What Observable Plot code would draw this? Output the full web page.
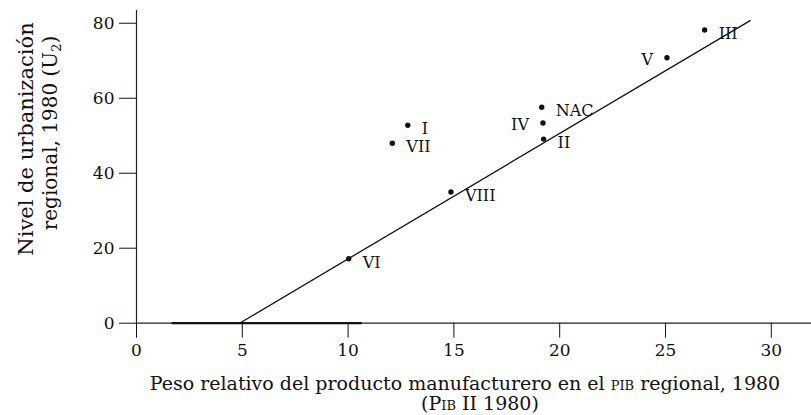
<!DOCTYPE html>
<html>
<head>
<meta charset="utf-8">
<script src="https://cdn.jsdelivr.net/npm/d3@7"></script>
<script src="https://cdn.jsdelivr.net/npm/@observablehq/plot@0.6"></script>
<style>
  html, body { margin: 0; padding: 0; background: #fff; }
  #chart svg { display: block; }
</style>
</head>
<body>
<div id="chart"></div>
<script>
// Regions and values
const regions = ["I", "II", "III", "IV", "V", "VI", "VII", "VIII", "NAC"];
const pib     = [12.82, 19.24, 26.85, 19.21, 25.07, 10.03, 12.09, 14.86, 19.15];
const urban   = [52.8, 49.1, 78.2, 53.4, 70.8, 17.2, 48.0, 35.0, 57.6];

// Fitted line (start on the x-axis, end top right)
const fitX = [4.87, 29.0];
const fitY = [0, 80.7];

// Heavier stretch printed along the baseline
const baseX = [1.7, 10.6];
const baseY = [0, 0];

// Tick values
const xTicks = [0, 5, 10, 15, 20, 25, 30];
const yTicks = [0, 20, 40, 60, 80];

const labelLeft = new Set(["IV", "V"]);

const points = regions.map((r, i) => ({ region: r, x: pib[i], y: urban[i] }));
const fit = fitX.map((x, i) => ({ x, y: fitY[i] }));
const base = baseX.map((x, i) => ({ x, y: baseY[i] }));

const serif = "'DejaVu Serif', 'Liberation Serif', serif";

const plot = Plot.plot({
  width: 811,
  height: 415,
  marginLeft: 136,
  marginRight: 0,
  marginTop: 10,
  marginBottom: 92.3,
  style: { fontFamily: serif, fontSize: "17px", color: "#111", background: "#fff" },
  x: { domain: [0, 31.9], ticks: xTicks, tickSize: 15, tickPadding: 6, label: null },
  y: { domain: [0, 83.4], ticks: yTicks, tickSize: 17, tickPadding: 5, label: null },
  marks: [
    Plot.ruleY([0], { stroke: "#222", strokeWidth: 1.2 }),
    Plot.ruleX([0], { stroke: "#222", strokeWidth: 1.2 }),
    Plot.line(base, { x: "x", y: "y", stroke: "#111", strokeWidth: 2.2 }),
    Plot.line(fit, { x: "x", y: "y", stroke: "#111", strokeWidth: 1.3 }),
    Plot.dot(points, { x: "x", y: "y", r: 2.7, fill: "#111", stroke: "none" }),
    Plot.text(points.filter(d => !labelLeft.has(d.region)), {
      x: "x", y: "y", text: "region", textAnchor: "start", dx: 14, dy: 4,
      fontSize: 16, fill: "#111"
    }),
    Plot.text(points.filter(d => labelLeft.has(d.region)), {
      x: "x", y: "y", text: "region", textAnchor: "end", dx: -14, dy: 2,
      fontSize: 16, fill: "#111"
    })
  ]
});

document.getElementById("chart").appendChild(plot);

const svg = d3.select(plot);

// x title, line 1 with small caps PIB
const xt1 = svg.append("text")
  .attr("x", 465).attr("y", 390)
  .attr("text-anchor", "middle")
  .attr("font-family", serif).attr("font-size", 19).attr("fill", "#111");
xt1.append("tspan").text("Peso relativo del producto manufacturero en el ");
xt1.append("tspan").style("font-variant", "small-caps").text("pib");
xt1.append("tspan").text(" regional, 1980");

const xt2 = svg.append("text")
  .attr("x", 480).attr("y", 410)
  .attr("text-anchor", "middle")
  .attr("font-family", serif).attr("font-size", 19).attr("fill", "#111");
xt2.append("tspan").text("(");
xt2.append("tspan").style("font-variant", "small-caps").text("Pib");
xt2.append("tspan").text(" II 1980)");

// y title, two rotated lines
svg.append("text")
  .attr("transform", "translate(33,139) rotate(-90)")
  .attr("text-anchor", "middle")
  .attr("font-family", serif).attr("font-size", 21).attr("fill", "#111")
  .text("Nivel de urbanización");

const yt2 = svg.append("text")
  .attr("transform", "translate(57,133) rotate(-90)")
  .attr("text-anchor", "middle")
  .attr("font-family", serif).attr("font-size", 20).attr("fill", "#111");
yt2.append("tspan").text("regional, 1980 (U");
yt2.append("tspan").attr("font-size", 13).attr("dy", 4).text("2");
yt2.append("tspan").attr("dy", -4).text(")");
</script>
</body>
</html>
